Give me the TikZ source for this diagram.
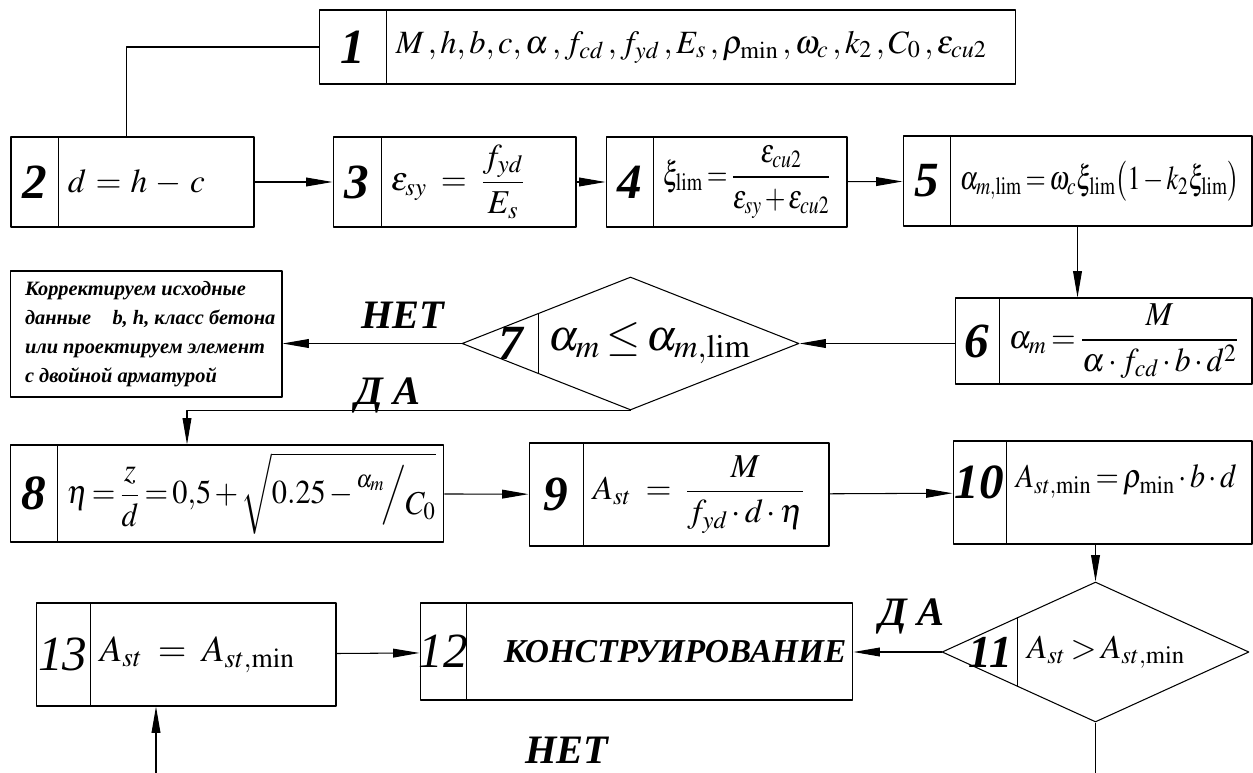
\documentclass[tikz,border=0pt]{standalone}
\usepackage{amsmath}
\usepackage{mathptmx}
\usepackage{graphicx}
\usepackage{fontspec}
\setmainfont{Liberation Serif}
\usetikzlibrary{shapes.geometric,calc,arrows.meta}
\thickmuskip=2.5mu plus 2mu
\medmuskip=2mu plus 1mu
\newcommand\nrw[2][0.9]{\scalebox{#1}[1]{#2}}

\begin{document}
\begin{tikzpicture}[x=0.02cm, y=-0.02cm, line width=0.6pt, line join=round, >={Triangle[length=15pt,width=5pt]},
  blk/.style={draw, rectangle, inner sep=0pt},
  dia/.style={draw, diamond, inner sep=0pt},
  num/.style={font=\fontsize{28}{28}\selectfont\bfseries\itshape, inner sep=0pt},
  txt/.style={anchor=west, font=\fontsize{19}{22}\selectfont, inner sep=5pt},
  lbl/.style={font=\fontsize{23}{23}\selectfont\bfseries\itshape, inner sep=0pt}]
\useasboundingbox (0,0) rectangle (1253,773);
% input data
\node[blk, minimum width=13.94cm, minimum height=1.48cm] (b1) at (667.5,47) {};
\draw ([xshift=1.36cm]b1.north west) -- ([xshift=1.36cm]b1.south west);
\node[num] (n1) at ([xshift=0.68cm]b1.west) {1};
\node[txt, font=\fontsize{18.5}{22}\selectfont] (t1) at ([xshift=1.36cm]b1.west)
  {$M\,,h,b,c,\alpha\,,f_{cd}\,,f_{yd}\,,E_s\,,\rho_{\min}\,,\omega_c\,,k_2\,,C_0\,,\varepsilon_{cu2}$};
% row 2
\node[blk, minimum width=4.86cm, minimum height=1.8cm] (b2) at (132.5,182) {};
\draw ([xshift=0.96cm]b2.north west) -- ([xshift=0.96cm]b2.south west);
\node[num] (n2) at ([xshift=0.48cm]b2.west) {2};
\node[txt] (t2) at ([xshift=0.96cm]b2.west) {$d\;=\;h\;-\;c$};
\node[blk, minimum width=4.86cm, minimum height=1.8cm] (b3) at (454.5,182) {};
\draw ([xshift=0.98cm]b3.north west) -- ([xshift=0.98cm]b3.south west);
\node[num] (n3) at ([xshift=0.49cm]b3.west) {3};
\node[txt] (t3) at ([xshift=0.98cm]b3.west) {$\varepsilon_{sy}\;\;=\;\;\dfrac{f_{yd}}{E_s}$};
\node[blk, minimum width=4.82cm, minimum height=1.8cm] (b4) at (726.5,182) {};
\draw ([xshift=0.96cm]b4.north west) -- ([xshift=0.96cm]b4.south west);
\node[num] (n4) at ([xshift=0.48cm]b4.west) {4};
\node[txt] (t4) at ([xshift=0.96cm]b4.west) {\nrw[0.8]{$\xi_{\lim}=\dfrac{\varepsilon_{cu2}}{\varepsilon_{sy}+\varepsilon_{cu2}}$}};
\node[blk, minimum width=6.98cm, minimum height=1.8cm] (b5) at (1077.5,181) {};
\draw ([xshift=0.96cm]b5.north west) -- ([xshift=0.96cm]b5.south west);
\node[num] (n5) at ([xshift=0.48cm]b5.west) {5};
\node[txt] (t5) at ([xshift=0.96cm]b5.west) {\nrw[0.78]{$\alpha_{m,\lim}=\omega_c\xi_{\lim}\bigl(1-k_2\xi_{\lim}\bigr)$}};
% check of alpha_m
\node[blk, minimum width=5.94cm, minimum height=1.72cm] (b6) at (1103.5,341) {};
\draw ([xshift=0.9cm]b6.north west) -- ([xshift=0.9cm]b6.south west);
\node[num] (n6) at ([xshift=0.45cm]b6.west) {6};
\node[txt] (t6) at ([xshift=0.9cm]b6.west) {\nrw[0.95]{$\alpha_m=\dfrac{M}{\alpha\cdot f_{cd}\cdot b\cdot d^2}$}};
\node[dia, minimum width=6.74cm, minimum height=2.66cm] (d7) at (630.5,343.5) {};
\draw ($(d7.west)!0.457!(d7.north)$) -- ($(d7.west)!0.457!(d7.south)$);
\node[num] (n7) at ([xshift=0.98cm]d7.west) {7};
\node[txt, font=\fontsize{25}{27}\selectfont] (t7) at ($(d7.west)!0.2285!(d7.east)$) {$\alpha_m\le\alpha_{m,\lim}$};
\node[blk, minimum width=5.44cm, minimum height=2.52cm] (fix) at (146,334) {};
\node[anchor=west, align=left, inner sep=0pt, font=\fontsize{11.6}{16.5}\selectfont\bfseries\itshape] (tfix)
  at ([xshift=0.3cm]fix.west) {Корректируем исходные\\данные\hspace{0.8em} b, h, класс бетона\\или проектируем элемент\\с двойной арматурой};
% row 8-10
\node[blk, minimum width=8.68cm, minimum height=1.94cm] (b8) at (227,493.5) {};
\draw ([xshift=0.96cm]b8.north west) -- ([xshift=0.96cm]b8.south west);
\node[num] (n8) at ([xshift=0.48cm]b8.west) {8};
\node[txt] (t8) at ([xshift=0.96cm]b8.west)
  {\nrw[0.91]{$\eta=\dfrac{z}{d}=0{,}5+\sqrt{0.25-\raisebox{1.1ex}{$\scriptstyle\alpha_m$}\!\Big/\raisebox{-0.7ex}{$C_0$}}$}};
\node[blk, minimum width=6cm, minimum height=2.06cm] (b9) at (679,494.5) {};
\draw ([xshift=1.1cm]b9.north west) -- ([xshift=1.1cm]b9.south west);
\node[num] (n9) at ([xshift=0.55cm]b9.west) {9};
\node[txt] (t9) at ([xshift=1.1cm]b9.west) {$A_{st}\;\;=\;\;\dfrac{M}{f_{yd}\cdot d\cdot\eta}$};
\node[blk, minimum width=5.98cm, minimum height=2.06cm] (b10) at (1102.5,492.5) {};
\draw ([xshift=1.08cm]b10.north west) -- ([xshift=1.08cm]b10.south west);
\node[num] (n10) at ([xshift=0.54cm, yshift=0.2cm]b10.west) {10};
\node[txt] (t10) at ([xshift=1.08cm, yshift=0.22cm]b10.west) {\nrw[0.9]{$A_{st,\min}=\rho_{\min}\cdot b\cdot d$}};
% row 11-13
\node[dia, minimum width=6.14cm, minimum height=2.8cm] (d11) at (1095.5,652) {};
\draw ($(d11.west)!0.495!(d11.north)$) -- ($(d11.west)!0.495!(d11.south)$);
\node[num, font=\fontsize{26}{26}\selectfont\bfseries\itshape] (n11) at ([xshift=0.98cm]d11.west) {11};
\node[txt] (t11) at ($(d11.west)!0.2475!(d11.east)$) {$A_{st}>A_{st,\min}$};
\node[blk, minimum width=8.66cm, minimum height=1.94cm] (b12) at (636.5,651.5) {};
\draw ([xshift=0.94cm]b12.north west) -- ([xshift=0.94cm]b12.south west);
\node[num, font=\fontsize{28}{28}\selectfont\itshape] (n12) at ([xshift=0.47cm]b12.west) {12};
\node[txt, font=\fontsize{19}{22}\selectfont\bfseries\itshape] (t12) at ([xshift=1.5cm]b12.west) {КОНСТРУИРОВАНИЕ};
\node[blk, minimum width=6cm, minimum height=2.06cm] (b13) at (186,654.5) {};
\draw ([xshift=1.1cm]b13.north west) -- ([xshift=1.1cm]b13.south west);
\node[num, font=\fontsize{28}{28}\selectfont\itshape] (n13) at ([xshift=0.55cm]b13.west) {13};
\node[txt, font=\fontsize{21}{24}\selectfont] (t13) at ([xshift=1.1cm]b13.west) {$A_{st}\;\;=\;\;A_{st,\min}$};
\coordinate (e11) at (1095.5,773);
\coordinate (e13) at (156,773);
% connectors
\draw (b1.west) -| ([xshift=-0.12cm]b2.north);
\draw[->] (b2) -- (b3);
\draw[->] (b3) -- (b4);
\draw[->] (b4) -- (b5);
\draw[->] (b5.south) -- (b5.south |- b6.north);
\draw[->] (b6.west |- d7.east) -- (d7.east);
\draw[->] (d7.west) -- (d7.west -| fix.east);
\draw[->] (d7.south) -| ([xshift=-0.8cm]b8.north);
\draw[->] (b8) -- (b9);
\draw[->] (b9) -- (b10);
\draw[->] (d11.north |- b10.south) -- (d11.north);
\draw[->] (d11.west) -- (d11.west -| b12.east);
\draw[->] (b13) -- (b12);
\draw (d11.south) -- (e11);
\draw[->] (e13) -- (e13 |- b13.south);
\node[lbl] (no7) at (403,315) {НЕТ};
\node[lbl] (yes7) at (388,395) {Д А};
\node[lbl] (yes11) at (912,616) {Д А};
\node[lbl] (no11) at (567,750) {НЕТ};
\end{tikzpicture}
\end{document}
